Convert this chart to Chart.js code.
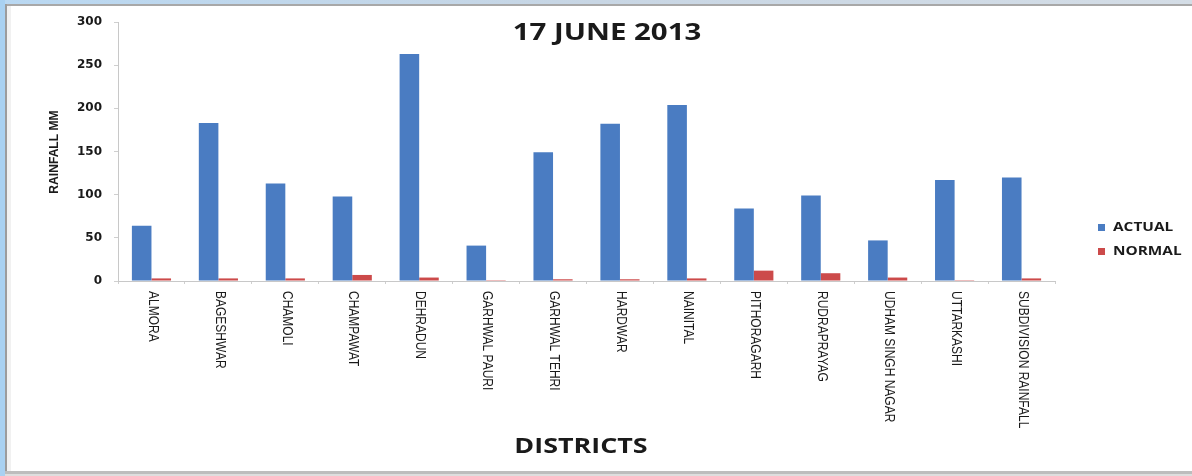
<!DOCTYPE html>
<html>
<head>
<meta charset="utf-8">
<script src="https://cdn.jsdelivr.net/npm/chart.js@4"></script>
<style>
  html, body { margin: 0; padding: 0; background: #fff; }
  #wrap { position: relative; width: 1192px; height: 476px; }
</style>
</head>
<body>
<div id="wrap"><canvas id="rain" width="1192" height="476"></canvas></div>
<script>
/* Rainfall by district, 17 June 2013 */

const districts = ['ALMORA', 'BAGESHWAR', 'CHAMOLI', 'CHAMPAWAT', 'DEHRADUN', 'GARHWAL PAURI', 'GARHWAL TEHRI',
  'HARDWAR', 'NAINITAL', 'PITHORAGARH', 'RUDRAPRAYAG', 'UDHAM SINGH NAGAR', 'UTTARKASHI', 'SUBDIVISION RAINFALL'];
const actual = [64, 183, 113, 98, 263, 41, 149, 182, 204, 84, 99, 47, 117, 120];
const normal = [3, 3, 3, 7, 4, 1, 2, 2, 3, 12, 9, 4, 1, 3];
const yTicks = [0, 50, 100, 150, 200, 250, 300];
const seriesNames = ['ACTUAL', 'NORMAL'];
const seriesColors = ['#4a7cc2', '#cc4a4a'];

const STRETCH = 1.28;

// text drawn a little wider than the font, like the old office export
function wideText(ctx, txt, x, y, font, align) {
  ctx.save();
  ctx.font = font;
  ctx.fillStyle = '#1a1a1a';
  ctx.textBaseline = 'middle';
  const w = ctx.measureText(txt).width * STRETCH;
  let x0 = x;
  if (align === 'center') x0 = x - w / 2;
  ctx.translate(x0, y);
  ctx.scale(STRETCH, 1);
  ctx.textAlign = 'left';
  ctx.fillText(txt, 0, 0);
  ctx.restore();
}

const frame = {
  id: 'frame',
  beforeDraw(chart) {
    const { ctx, width, height } = chart;
    ctx.save();
    ctx.fillStyle = '#fff';
    ctx.fillRect(0, 0, width, height);
    // window edge
    const g = ctx.createLinearGradient(0, 0, width, 0);
    g.addColorStop(0, '#b9d8f2');
    g.addColorStop(0.5, '#c8d6e4');
    g.addColorStop(1, '#d4dde6');
    ctx.fillStyle = g;
    ctx.fillRect(0, 0, width, 4);
    ctx.fillStyle = '#a8a8a8';
    ctx.fillRect(0, 4, width, 2);
    ctx.fillStyle = '#a9d1f1';
    ctx.fillRect(0, 0, 5, height);
    ctx.fillStyle = '#9c9c9c';
    ctx.fillRect(5, 4, 2, height - 4);
    ctx.fillStyle = '#f1f1f1';
    ctx.fillRect(7, 6, 4, height - 10);
    ctx.fillStyle = '#bdbdbd';
    ctx.fillRect(5, height - 5, width - 5, 3);
    ctx.fillStyle = '#dedede';
    ctx.fillRect(5, height - 2, width - 5, 2);
    ctx.restore();
  },
  afterDraw(chart) {
    const { ctx } = chart;
    const x = chart.scales.x;

    // category names, rotated to read downwards
    ctx.save();
    ctx.font = '12px "Liberation Sans Narrow", "Liberation Sans", sans-serif';
    ctx.fillStyle = '#1a1a1a';
    ctx.textBaseline = 'middle';
    ctx.textAlign = 'left';
    districts.forEach((d, i) => {
      const px = x.getPixelForValue(i);
      ctx.save();
      ctx.translate(px + 1, x.top + 10);
      ctx.rotate(Math.PI / 2);
      ctx.scale(1, 1.15);
      ctx.fillText(d, 0, 0);
      ctx.restore();
    });
    ctx.restore();

    // y axis title
    ctx.save();
    ctx.font = 'bold 11px "Liberation Sans Narrow", "Liberation Sans", sans-serif';
    ctx.fillStyle = '#1a1a1a';
    ctx.textAlign = 'center';
    ctx.textBaseline = 'middle';
    ctx.translate(55, 152);
    ctx.rotate(-Math.PI / 2);
    ctx.scale(1.1, 1.15);
    ctx.fillText('RAINFALL MM', 0, 0);
    ctx.restore();

    // chart title and axis title
    wideText(ctx, '17 JUNE 2013', 607, 33, 'bold 23px "Open Sans", sans-serif', 'center');
    wideText(ctx, 'DISTRICTS', 581, 447, 'bold 21px "Open Sans", sans-serif', 'center');

    // legend
    const rows = [227, 251];
    seriesNames.forEach((n, i) => {
      ctx.fillStyle = seriesColors[i];
      ctx.fillRect(1098, rows[i] - 3, 7, 7);
      wideText(ctx, n, 1113, rows[i] + 1, 'bold 12px "Open Sans", sans-serif', 'left');
    });
  }
};

new Chart(document.getElementById('rain'), {
  type: 'bar',
  data: {
    labels: districts,
    datasets: [
      { label: seriesNames[0], data: actual, backgroundColor: seriesColors[0] },
      { label: seriesNames[1], data: normal, backgroundColor: seriesColors[1] }
    ]
  },
  options: {
    responsive: false,
    animation: false,
    events: [],
    layout: { padding: { left: 0, top: 22, right: 137, bottom: 0 } },
    datasets: { bar: { categoryPercentage: 0.585, barPercentage: 1.0 } },
    plugins: { legend: { display: false }, title: { display: false }, tooltip: { enabled: false } },
    scales: {
      x: {
        afterFit: (s) => { s.height = 476 - 22 - 259; },
        ticks: { display: false },
        grid: { display: true, drawOnChartArea: false, offset: true, tickLength: 3, color: '#cfcfcf' },
        border: { color: '#c8c8c8' }
      },
      y: {
        min: 0, max: 300,
        afterFit: (s) => { s.width = 118; },
        afterBuildTicks: (s) => { s.ticks = yTicks.map((v) => ({ value: v })); },
        ticks: {
          color: '#1a1a1a', padding: 12,
          font: { family: 'DejaVu Sans', size: 12, weight: 'bold' }
        },
        grid: { display: true, drawOnChartArea: false, tickLength: 4, color: '#cfcfcf' },
        border: { color: '#c8c8c8' }
      }
    }
  },
  plugins: [frame]
});
</script>
</body>
</html>
